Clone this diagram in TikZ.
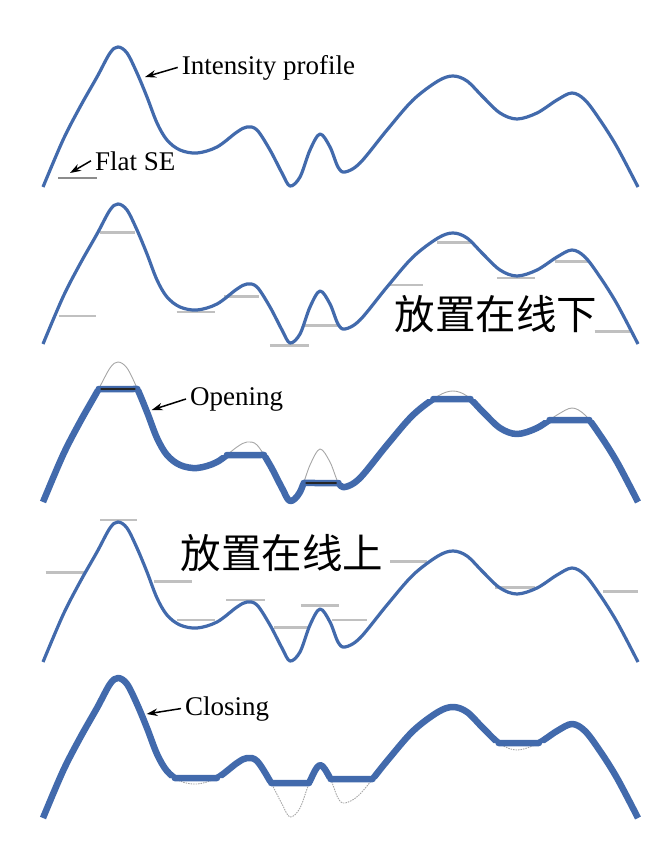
\documentclass[tikz,border=0pt]{standalone}
\usepackage{fontspec}
\setmainfont{Liberation Serif}
\newfontfamily\cjk{Noto Sans CJK SC}
\usetikzlibrary{arrows.meta,intersections}
\definecolor{profblue}{RGB}{66,106,172}
\definecolor{segray}{RGB}{192,192,192}
\newcommand{\profcurve}{plot[smooth,tension=0.55] coordinates {(43,187) (63,140) (80,107) (97,77) (110,53) (118,47) (127,53) (137,73) (147,97) (157,123) (167,140) (180,150) (197,153) (217,147) (237,132) (247,127) (257,130) (270,150) (282,173) (290,186) (300,177) (310,150) (320,134) (330,147) (338,167) (345,172) (360,163) (387,130) (413,100) (438,81) (453,76) (467,81) (483,97) (500,113) (517,119) (537,113) (557,100) (572,93) (585,100) (600,120) (617,147) (638,187)}}
\tikzset{
  prof/.style={draw=profblue,line width=3.2pt,line join=round},
  profthick/.style={draw=profblue,line width=6.5pt,line join=round},
  origthin/.style={draw=black!35,line width=0.9pt},
  seline/.style={draw=segray,line width=2.6pt},
  lbl/.style={font=\fontsize{27}{30}\selectfont,inner xsep=4pt,inner ysep=0pt,anchor=base west},
  cjklbl/.style={font=\cjk\fontsize{40.5}{44}\selectfont,inner sep=0pt},
  ptr/.style={-{Stealth[length=11pt,width=7.5pt]},line width=1.5pt}
}
\begin{document}
\begin{tikzpicture}[x=1pt,y=-1pt]
\useasboundingbox (0,0) rectangle (651,865);
% intensity profile
\draw[prof] \profcurve;
\draw[draw=black!45,line width=1.2pt] (58,178) -- (97,178);
\node (lblint) at (177.7,74) [lbl]{Intensity profile};
\coordinate (tipint) at (145,77);
\draw[ptr] (lblint.west) -- (tipint);
\node (lblse) at (91,170) [lbl]{Flat SE};
\coordinate (tipse) at (70,173);
\draw[ptr] (lblse.west) -- (tipse);
% SE below the profile
\begin{scope}[shift={(0,157)}]
\foreach \xa/\xb/\yy in {58.7/96/159, 99.6/135/75.7, 176.7/214.7/155, 224/259.4/139.7, 269.8/309/188.7, 305/340/168.7, 387.7/422.9/128, 437/470.5/85.7, 497/534.6/121, 555/588/104.7, 594.6/629.8/174.7}
  \draw[seline] (\xa,\yy) -- (\xb,\yy);
\draw[prof] \profcurve;
\node (txtbelow) at (496,156.7) [cjklbl]{放置在线下};
\end{scope}
% opening
\begin{scope}[shift={(0,315)}]
\draw[origthin,name path=prof3] \profcurve;
\begin{scope}[even odd rule]
\clip (0,-20) rectangle (651,200) (88,-20) rectangle (147,74) (215,-20) rectangle (275,140) (293,-20) rectangle (343,168) (420,-20) rectangle (485,84) (540,-20) rectangle (598,105);
\draw[profthick] \profcurve;
\end{scope}
\foreach \xa/\xb/\lv/\k in {88/147/74/1, 215/275/140/2, 293/343/168/3, 420/485/84/4, 540/598/105/5} {
  \path[name path=lv\k] (\xa,\lv) -- (\xb,\lv);
  \draw[profthick,line cap=round,name intersections={of=prof3 and lv\k,name=op\k}] (op\k-1) -- (op\k-2);
}
\draw[draw=black!85,line width=1.6pt,shorten <=2pt,shorten >=2pt] (op1-1) -- (op1-2);
\draw[draw=black!85,line width=1.6pt,shorten <=2pt,shorten >=2pt] (op3-1) -- (op3-2);
\node (lblopen) at (186,90) [lbl]{Opening};
\coordinate (tipopen) at (151.7,95);
\draw[ptr] (lblopen.west) -- (tipopen);
\end{scope}
% SE above the profile
\begin{scope}[shift={(0,475)}]
\foreach \xa/\xb/\yy in {45.5/83.6/97.3, 100/137/45, 154/192/106.7, 176.7/214.7/145, 226/265/125, 274/309/152.3, 300.8/339/130.7, 332/367/145, 390/427/86.7, 495/534.6/112.3, 603/638/116.7}
  \draw[seline] (\xa,\yy) -- (\xb,\yy);
\draw[prof] \profcurve;
\node (txtabove) at (282,78.5) [cjklbl]{放置在线上};
\end{scope}
% closing
\begin{scope}[shift={(0,631)}]
\draw[origthin,dash pattern=on 1.5pt off 1pt,name path=prof5] \profcurve;
\begin{scope}[even odd rule]
\clip (0,-20) rectangle (651,220) (170,147) rectangle (225,220) (265,152) rectangle (313,220) (322,148) rectangle (380,220) (490,112) rectangle (548,220);
\draw[profthick] \profcurve;
\end{scope}
\foreach \xa/\xb/\lv/\k in {170/225/147/1, 265/313/152/2, 322/380/148/3, 490/548/112/4} {
  \path[name path=lw\k] (\xa,\lv) -- (\xb,\lv);
  \draw[profthick,line cap=round,name intersections={of=prof5 and lw\k,name=cl\k}] (cl\k-1) -- (cl\k-2);
}
\node (lblclose) at (181,84) [lbl]{Closing};
\coordinate (tipclose) at (146.6,83);
\draw[ptr] (lblclose.west) -- (tipclose);
\end{scope}
\end{tikzpicture}
\end{document}
